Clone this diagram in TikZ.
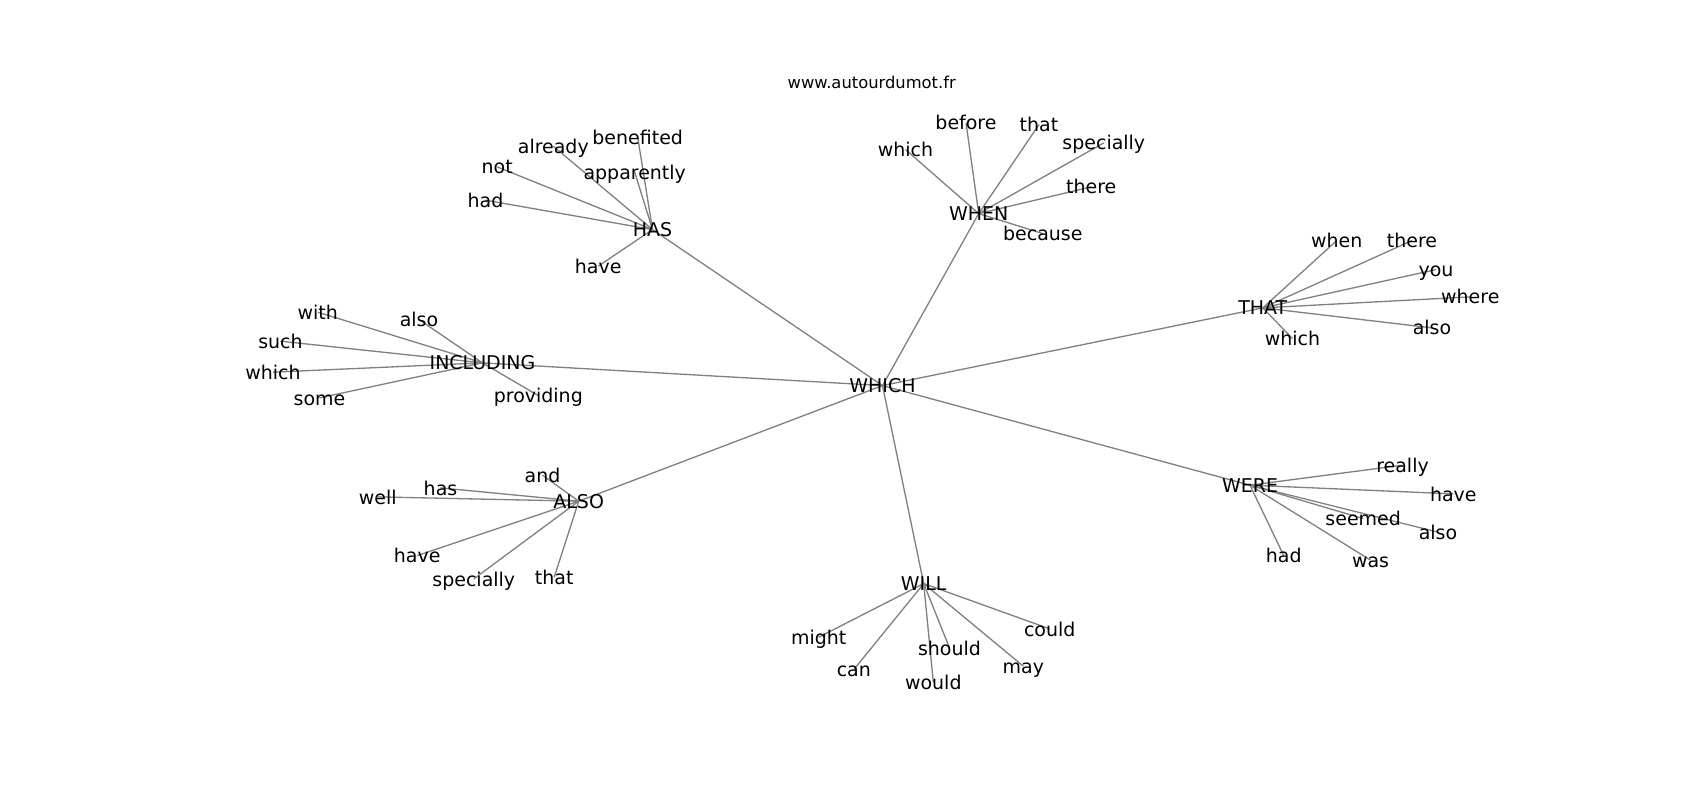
\documentclass[tikz,border=0pt]{standalone}
\usepackage{fontspec}
\setmainfont{DejaVu Sans}
\usetikzlibrary{backgrounds}

\begin{document}
\begin{tikzpicture}[x=0.02cm,y=-0.02cm]

    \tikzset{
      word/.style={
        anchor=base,
        inner sep=0pt,
        text height=8.1pt,
        text depth=0pt,
        font=\fontsize{10.8}{12}\selectfont,
      },
      link/.style={
        color={black!50},
        line width=0.75pt,
      },
    }
    \useasboundingbox (0,0) rectangle (1700,800);
	\node[anchor=base,font=\fontsize{9.3}{11}\selectfont] (site) at (871.7,88.3) {www.autourdumot.fr};
	% hubs
	\node[word] (which) at (882.5,392.7) {WHICH};
	\node[word] (has) at (652.5,236.7) {HAS};
	\node[word] (when) at (978.7,220.7) {WHEN};
	\node[word] (that) at (1262.8,315) {THAT};
	\node[word] (including) at (482.5,370) {INCLUDING};
	\node[word] (also) at (578.7,508.3) {ALSO};
	\node[word] (will) at (923.7,590.7) {WILL};
	\node[word] (were) at (1250,492.3) {WERE};
	% HAS
	\node[word] (has-benefited) at (637.7,144.3) {benefited};
	\node[word] (has-already) at (553.3,153.3) {already};
	\node[word] (has-not) at (497.2,174) {not};
	\node[word] (has-apparently) at (634.7,179.3) {apparently};
	\node[word] (has-had) at (485.5,207.3) {had};
	\node[word] (has-have) at (598.2,273.3) {have};
	% WHEN
	\node[word] (when-before) at (966,130) {before};
	\node[word] (when-that) at (1039,131.7) {that};
	\node[word] (when-which) at (905.5,156.7) {which};
	\node[word] (when-specially) at (1103.8,150) {specially};
	\node[word] (when-there) at (1091.2,194) {there};
	\node[word] (when-because) at (1042.8,240.7) {because};
	% THAT
	\node[word] (that-when) at (1336.7,247.7) {when};
	\node[word] (that-there) at (1412,247.7) {there};
	\node[word] (that-you) at (1436,276.7) {you};
	\node[word] (that-where) at (1470.3,304) {where};
	\node[word] (that-also) at (1432,335) {also};
	\node[word] (that-which) at (1292.5,345.7) {which};
	% INCLUDING
	\node[word] (including-with) at (317.8,319.3) {with};
	\node[word] (including-also) at (419,326.7) {also};
	\node[word] (including-such) at (280.5,348.3) {such};
	\node[word] (including-which) at (273,379.3) {which};
	\node[word] (including-some) at (319.5,405) {some};
	\node[word] (including-providing) at (538.3,402.7) {providing};
	% ALSO
	\node[word] (also-and) at (542.5,482.3) {and};
	\node[word] (also-has) at (440.5,495) {has};
	\node[word] (also-well) at (377.8,504) {well};
	\node[word] (also-have) at (417.2,562.7) {have};
	\node[word] (also-specially) at (473.8,586) {specially};
	\node[word] (also-that) at (554.2,584.3) {that};
	% WILL
	\node[word] (will-might) at (818.7,644.3) {might};
	\node[word] (will-could) at (1049.7,636) {could};
	\node[word] (will-should) at (949.5,655) {should};
	\node[word] (will-may) at (1023.3,673.3) {may};
	\node[word] (will-can) at (853.8,676.7) {can};
	\node[word] (will-would) at (933.3,689.3) {would};
	% WERE
	\node[word] (were-really) at (1402.5,472.3) {really};
	\node[word] (were-have) at (1453.3,501) {have};
	\node[word] (were-seemed) at (1363.2,525.7) {seemed};
	\node[word] (were-also) at (1438,539.3) {also};
	\node[word] (were-had) at (1283.7,562.7) {had};
	\node[word] (were-was) at (1370.5,567.3) {was};

	\begin{scope}[on background layer]
	\foreach \h in {has,when,that,including,also,will,were}
	  \draw[link] (which.center)--(\h.center);
	\foreach \w in {benefited,already,not,apparently,had,have}
	  \draw[link] (has.center)--(has-\w.center);
	\foreach \w in {before,that,which,specially,there,because}
	  \draw[link] (when.center)--(when-\w.center);
	\foreach \w in {when,there,you,where,also,which}
	  \draw[link] (that.center)--(that-\w.center);
	\foreach \w in {with,also,such,which,some,providing}
	  \draw[link] (including.center)--(including-\w.center);
	\foreach \w in {and,has,well,have,specially,that}
	  \draw[link] (also.center)--(also-\w.center);
	\foreach \w in {might,could,should,may,can,would}
	  \draw[link] (will.center)--(will-\w.center);
	\foreach \w in {really,have,seemed,also,had,was}
	  \draw[link] (were.center)--(were-\w.center);
	\end{scope}

\end{tikzpicture}
\end{document}
